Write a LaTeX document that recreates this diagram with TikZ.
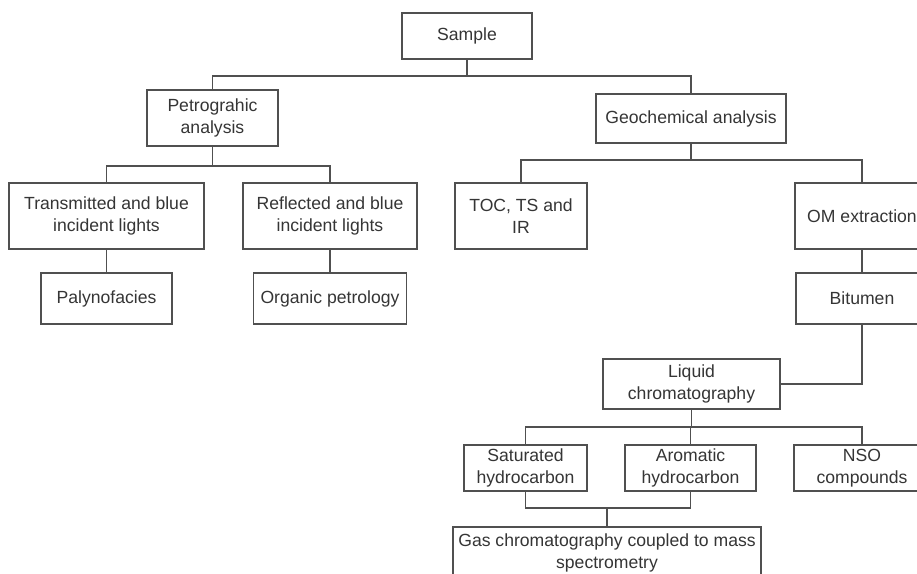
\documentclass[tikz,border=0pt]{standalone}
\usepackage{fontspec}
\setmainfont{Liberation Sans}
\begin{document}
\begin{tikzpicture}[x=1pt,y=-1pt,
  box/.style={draw=linegrey, line width=1.6pt, fill=white, align=center, inner sep=0pt,
    text=textgrey, font=\fontsize{17.6}{21.5}\selectfont},
  conn/.style={draw=linegrey, line width=1.6pt}]
\definecolor{linegrey}{HTML}{505050}
\definecolor{textgrey}{HTML}{353535}
\useasboundingbox (0,0) rectangle (917,573);
\fill[white] (0,0) rectangle (917,573);
% nodes
\node[box, minimum width=130, minimum height=46] (sample) at (467,36) {Sample};
\node[box, minimum width=131, minimum height=56] (petro) at (212.5,118) {Petrograhic\\analysis};
\node[box, minimum width=190, minimum height=49] (geo) at (691,118.5) {Geochemical analysis};
\node[box, minimum width=195, minimum height=66] (trans) at (106.5,216) {Transmitted and blue\\incident lights};
\node[box, minimum width=174, minimum height=66] (refl) at (330,216) {Reflected and blue\\incident lights};
\node[box, minimum width=131, minimum height=51] (paly) at (106.5,298.5) {Palynofacies};
\node[box, minimum width=153, minimum height=51] (org) at (330,298.5) {Organic petrology};
\node[box, minimum width=132, minimum height=66] (toc) at (521,216) {TOC, TS and\\IR};
\node[box, minimum width=134, minimum height=66] (om) at (862,216) {OM extraction};
\node[box, minimum width=132, minimum height=51] (bit) at (862,298.5) {Bitumen};
\node[box, minimum width=177, minimum height=50] (liq) at (691.5,384) {Liquid\\chromatography};
\node[box, minimum width=123, minimum height=46] (sat) at (525.5,468) {Saturated\\hydrocarbon};
\node[box, minimum width=131, minimum height=46] (aro) at (690.5,468) {Aromatic\\hydrocarbon};
\node[box, minimum width=136, minimum height=46] (nso) at (862,468) {NSO\\compounds};
\node[box, minimum width=308, minimum height=52] (gas) at (607,553) {Gas chromatography coupled to mass\\spectrometry};
% connectors
\draw[conn] (sample.south) -- (sample.south |- 0,76) -| (petro.north);
\draw[conn] (sample.south) -- (sample.south |- 0,76) -| (geo.north);
\draw[conn] (petro.south) -- (petro.south |- 0,166) -| (trans.north);
\draw[conn] (petro.south) -- (petro.south |- 0,166) -| (refl.north);
\draw[conn] (geo.south) -- (geo.south |- 0,160) -| (toc.north);
\draw[conn] (geo.south) -- (geo.south |- 0,160) -| (om.north);
\draw[conn] (trans.south) -- (paly.north);
\draw[conn] (refl.south) -- (org.north);
\draw[conn] (om.south) -- (bit.north);
\draw[conn] (bit.south) |- (liq.east);
\draw[conn] (liq.south) -- (liq.south |- 0,427) -| (sat.north);
\draw[conn] (liq.south) -- (liq.south |- 0,427) -| (aro.north);
\draw[conn] (liq.south) -- (liq.south |- 0,427) -| (nso.north);
\draw[conn] (sat.south) -- (sat.south |- 0,508) -| (aro.south);
\draw[conn] (gas.north) -- (gas.north |- 0,508);
\end{tikzpicture}
\end{document}
